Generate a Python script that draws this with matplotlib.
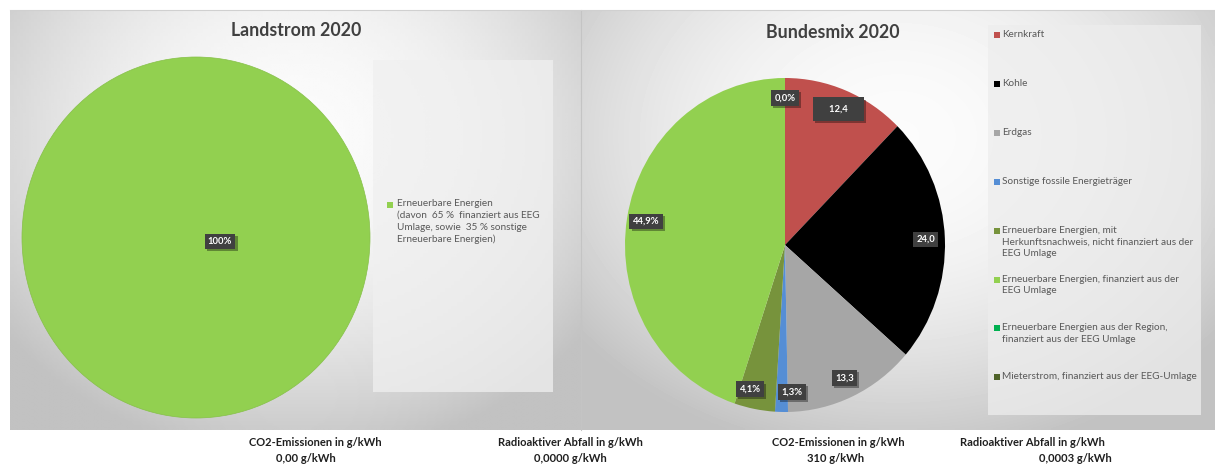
import numpy as np
import matplotlib
matplotlib.use('Agg')
import matplotlib.pyplot as plt
from matplotlib.patches import Rectangle
import matplotlib.patheffects as pe

plt.rcParams['font.family'] = ['Lato', 'DejaVu Sans']

# Data
land_labels = ['Erneuerbare Energien\n(davon  65 %  finanziert aus EEG\nUmlage, sowie  35 % sonstige\nErneuerbare Energien)']
land_values = [100.0]
land_colors = ['#92D050']
land_texts = ['100%']

bund_labels = ['Kernkraft', 'Kohle', 'Erdgas', 'Sonstige fossile Energieträger',
               'Erneuerbare Energien, mit\nHerkunftsnachweis, nicht finanziert aus der\nEEG Umlage',
               'Erneuerbare Energien, finanziert aus der\nEEG Umlage',
               'Erneuerbare Energien aus der Region,\nfinanziert aus der EEG Umlage',
               'Mieterstrom, finanziert aus der EEG-Umlage']
bund_values = [12.4, 24.0, 13.3, 1.3, 4.1, 44.9, 0.0, 0.0]
bund_colors = ['#C0504D', '#000000', '#A6A6A6', '#558ED5', '#77933C', '#92D050', '#00B050', '#4F6228']
bund_texts = ['12,4', '24,0', '13,3', '1,3%', '4,1%', '44,9%', '0,0%', '']

footer_land = [('CO2-Emissionen in g/kWh', '0,00 g/kWh'), ('Radioaktiver Abfall in g/kWh', '0,0000 g/kWh')]
footer_bund = [('CO2-Emissionen in g/kWh', '310 g/kWh'), ('Radioaktiver Abfall in g/kWh', '0,0003 g/kWh')]

W, H = 1215, 466
fig = plt.figure(figsize=(W / 100, H / 100), dpi=100)
fig.patch.set_facecolor('white')

# background axes in pixel coordinates
bg = fig.add_axes([0, 0, 1, 1], zorder=0)
bg.set_xlim(0, W)
bg.set_ylim(H, 0)
bg.axis('off')


def panel(x0, x1, y0, y1, cyf):
    xs = np.linspace(x0, x1, 200)
    ys = np.linspace(y0, y1, 120)
    X, Y = np.meshgrid(xs, ys)
    cx = (x0 + x1) / 2
    cy = y0 + (y1 - y0) * cyf
    nx = (X - cx) / ((x1 - x0) / 2)
    ny = (Y - cy) / ((y1 - y0) * 0.6)
    v = 0.985 - 0.135 * (nx ** 2 + ny ** 2)
    v = np.clip(v, 0.76, 1)
    bg.imshow(v, extent=[x0, x1, y1, y0], cmap='gray', vmin=0, vmax=1,
              aspect='auto', interpolation='bilinear', zorder=0)


panel(10, 581, 10, 430, 0.3)
panel(581, W, 10, 430, 0.3)
bg.plot([581, 581], [10, 430], color='#c4c4c4', lw=0.8, zorder=1)
bg.plot([10, W], [10, 10], color='#d0d0d0', lw=0.8, zorder=1)
bg.set_xlim(0, W)
bg.set_ylim(H, 0)

# legend boxes
bg.add_patch(Rectangle((373, 60), 180, 332, facecolor='#f0f0f0', edgecolor='none', alpha=0.75, zorder=2))
bg.add_patch(Rectangle((988, 25), 213, 390, facecolor='#ededed', edgecolor='none', alpha=0.75, zorder=2))

# titles
bg.text(296, 31, 'Landstrom 2020', ha='center', va='center', fontsize=12.8,
        fontweight='bold', color='#404040', zorder=3)
bg.text(833, 32, 'Bundesmix 2020', ha='center', va='center', fontsize=12.8,
        fontweight='bold', color='#404040', zorder=3)

box_style = dict(boxstyle='square,pad=0.35', facecolor='#404040', edgecolor='none')
shadow = [pe.withSimplePatchShadow(offset=(1.5, -1.5), shadow_rgbFace='#000000', alpha=0.35)]


def fig_axes(x0, x1, y0, y1):
    return fig.add_axes([x0 / W, 1 - y1 / H, (x1 - x0) / W, (y1 - y0) / H], zorder=2)


# left pie
ax1 = fig_axes(22, 370, 57, 418)
w1, _ = ax1.pie(land_values, colors=land_colors, startangle=90, counterclock=False,
                wedgeprops=dict(edgecolor='#86c048', linewidth=0.5))
ax1.set_xlim(-1, 1)
ax1.set_ylim(-1, 1)
ax1.set_aspect('auto')
ax1.axis('off')
t = ax1.annotate(land_texts[0], (0, 0), xytext=(24, -4), textcoords='offset pixels',
                 ha='center', va='center', fontsize=6.8, fontweight='bold', color='white',
                 bbox=box_style)
t.get_bbox_patch().set_path_effects(shadow)

# right pie
ax2 = fig_axes(625, 945, 78, 412)
w2, _ = ax2.pie(bund_values, colors=bund_colors, startangle=90, counterclock=False,
                wedgeprops=dict(linewidth=0))
ax2.set_xlim(-1, 1)
ax2.set_ylim(-1, 1)
ax2.set_aspect('auto')
ax2.axis('off')
# small pixel nudges so the labels of the thin slices do not overlap
nudges = {'1,3%': (10, 0), '4,1%': (-8, 0)}
for wedge, txt in zip(w2, bund_texts):
    if not txt:
        continue
    ang = np.deg2rad((wedge.theta1 + wedge.theta2) / 2)
    r = 0.88
    bs = dict(box_style)
    txt_s = txt
    if txt == '12,4':
        bs['boxstyle'] = 'square,pad=0.75'
        txt_s = '    ' + txt + '    '
    tt = ax2.annotate(txt_s, (r * np.cos(ang), r * np.sin(ang)), xytext=nudges.get(txt, (0, 0)),
                      textcoords='offset pixels', ha='center', va='center',
                      fontsize=6.8, fontweight='bold', color='white', bbox=bs, zorder=5)
    tt.get_bbox_patch().set_path_effects(shadow)

# legends
leg_color = '#595959'
bg.add_patch(Rectangle((387, 202), 6, 6, facecolor=land_colors[0], edgecolor='none', zorder=3))
bg.text(397, 199, land_labels[0], ha='left', va='top', fontsize=7.2, color=leg_color,
        linespacing=1.4, zorder=3)

for i, (lab, col) in enumerate(zip(bund_labels, bund_colors)):
    y = 35 + i * 48.9
    bg.add_patch(Rectangle((994, y - 3), 6, 6, facecolor=col, edgecolor='none', zorder=3))
    bg.text(1002, y - 5, lab, ha='left', va='top', fontsize=7.2, color=leg_color,
            linespacing=1.4, zorder=3)

# footers
for (a, b), (xa, xb) in zip(footer_land, [(315, 306), (570, 570)]):
    bg.text(xa, 442, a, ha='center', va='center', fontsize=8.0, fontweight='bold', color='#1f1f1f')
    bg.text(xb, 459, b, ha='center', va='center', fontsize=8.0, fontweight='bold', color='#1f1f1f')
for (a, b), (xa, xb) in zip(footer_bund, [(838, 836), (1032, 1075)]):
    bg.text(xa, 442, a, ha='center', va='center', fontsize=8.0, fontweight='bold', color='#1f1f1f')
    bg.text(xb, 459, b, ha='center', va='center', fontsize=8.0, fontweight='bold', color='#1f1f1f')

fig.savefig('out.png', dpi=100)
